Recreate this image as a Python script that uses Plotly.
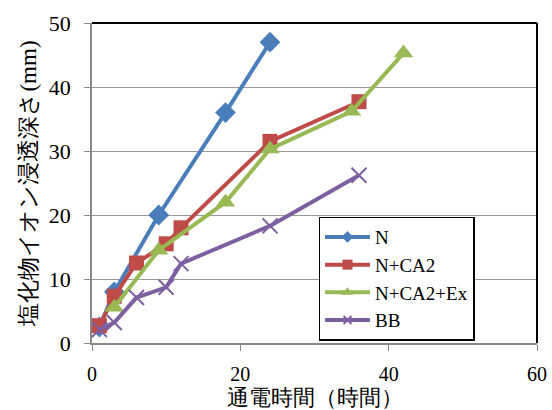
import plotly.graph_objects as go

n_x = [1, 3, 9, 18, 24]
n_y = [2.5, 8, 20, 36, 47]
ca2_x = [1, 3, 6, 10, 12, 24, 36]
ca2_y = [2.7, 7.3, 12.5, 15.5, 18, 31.5, 37.7]
ex_x = [3, 9, 18, 24, 35, 42]
ex_y = [5.6, 14.5, 22, 30.3, 36.2, 45.3]
bb_x = [1, 3, 6, 10, 12, 24, 36]
bb_y = [2.1, 3.2, 7.1, 8.7, 12.4, 18.3, 26.2]

x_ticks = [0, 20, 40, 60]
y_ticks = [0, 10, 20, 30, 40, 50]

names = ["N", "N+CA2", "N+CA2+Ex", "BB"]
colors = ["#4A7EBB", "#BE4B48", "#98B954", "#7D60A0"]
symbols = ["diamond", "square", "triangle-up", "x-thin"]
sizes = [16, 15, 17, 15]
legend_sizes = [9, 10, 10, 8]
xs = [n_x, ca2_x, ex_x, bb_x]
ys = [n_y, ca2_y, ex_y, bb_y]

serif = "Liberation Serif"

fig = go.Figure()
for name, c, s, sz, x, y in zip(names, colors, symbols, sizes, xs, ys):
    mk = dict(symbol=s, size=sz, color=c)
    if s == "x-thin":
        mk["line"] = dict(color=c, width=2)
    fig.add_trace(go.Scatter(x=x, y=y, name=name, mode="lines+markers",
                             line=dict(color=c, width=4), marker=mk,
                             showlegend=False))
for name, c, s, sz in zip(names, colors, symbols, legend_sizes):
    mk = dict(symbol=s, size=sz, color=c)
    if s == "x-thin":
        mk["line"] = dict(color=c, width=2)
    fig.add_trace(go.Scatter(x=[None], y=[None], name=name, mode="lines+markers",
                             line=dict(color=c, width=4), marker=mk))

fig.update_layout(
    width=552, height=410,
    margin=dict(l=92, r=15, t=23, b=67),
    paper_bgcolor="white", plot_bgcolor="white",
    font=dict(family=serif, size=22, color="black"),
    showlegend=True,
    legend=dict(x=0.509, y=0.395, xanchor="left", yanchor="top",
                bordercolor="black", borderwidth=1.5, bgcolor="white",
                font=dict(family=serif, size=19), tracegroupgap=0,
                itemwidth=45),
    xaxis=dict(range=[0, 60], tickvals=x_ticks, showgrid=False,
               showline=True, linecolor="#888888", linewidth=1.5,
               ticks="outside", ticklen=6, tickcolor="#888888",
               ticklabelstandoff=6, zeroline=False, mirror=False, automargin=False,
               tickfont=dict(family=serif, size=20),
               title=dict(text="通電時間（時間）", font=dict(family=serif, size=22), standoff=4)),
    yaxis=dict(range=[0, 50], tickvals=y_ticks, showgrid=True,
               gridcolor="#999999", gridwidth=1.2,
               showline=True, linecolor="#888888", linewidth=1.5,
               ticks="outside", ticklen=6, tickcolor="#888888",
               ticklabelstandoff=9, zeroline=False, automargin=False,
               tickfont=dict(family=serif, size=22),
               title=dict(text="塩化物イオン浸透深さ(mm)", font=dict(family=serif, size=23), standoff=6)),
)
fig.add_shape(type="line", xref="paper", yref="paper", x0=0, x1=1, y0=1, y1=1,
              line=dict(color="black", width=2))
fig.add_shape(type="line", xref="paper", yref="paper", x0=1, x1=1, y0=0, y1=1,
              line=dict(color="black", width=2))

fig.write_html("out.html")
